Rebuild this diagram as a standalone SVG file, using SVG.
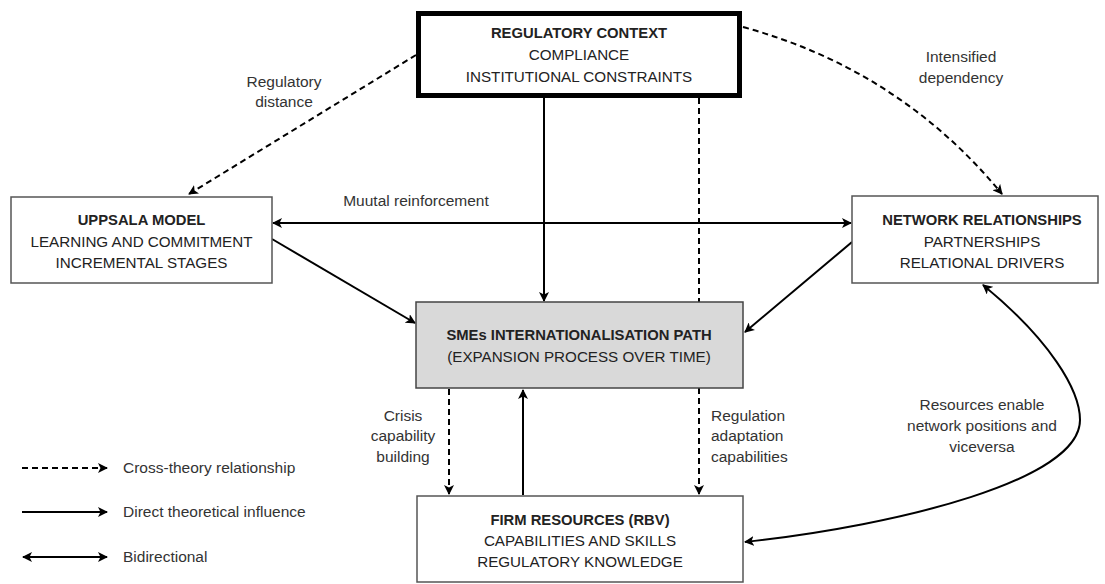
<svg xmlns="http://www.w3.org/2000/svg" width="1105" height="584" viewBox="0 0 1105 584">
<defs>
<marker id="ah" viewBox="0 0 10 10" refX="9" refY="5" markerWidth="5" markerHeight="5" orient="auto-start-reverse" markerUnits="strokeWidth">
<path d="M0,0 L10,5 L0,10 L2.5,5 z" fill="#000"/>
</marker>
<style>
.box{fill:#fff;stroke:#555;stroke-width:1.5}
.t{font-family:"Liberation Sans",Arial,sans-serif;font-size:15.2px;fill:#222;text-anchor:middle}
.b{font-weight:bold;font-size:14.8px}
.lab{font-family:"Liberation Sans",Arial,sans-serif;font-size:15.5px;fill:#333;text-anchor:middle}
.st{text-anchor:start}
.ln{fill:none;stroke:#000;stroke-width:2}
.d{stroke-dasharray:6,4}
</style>
</defs>
<rect width="1105" height="584" fill="#fff"/>
<g id="connectors">
<line class="ln d" x1="699" y1="98" x2="699" y2="494" marker-end="url(#ah)"/>
<line class="ln" x1="544" y1="98" x2="544" y2="301" marker-end="url(#ah)"/>
<line class="ln d" x1="416" y1="55" x2="189" y2="194" marker-end="url(#ah)"/>
<path class="ln d" d="M743,27 Q900,70 1002,194" marker-end="url(#ah)"/>
<line class="ln" x1="273" y1="223" x2="851" y2="223" marker-start="url(#ah)" marker-end="url(#ah)"/>
<line class="ln" x1="272" y1="239" x2="415" y2="323" marker-end="url(#ah)"/>
<line class="ln" x1="852" y1="242" x2="745" y2="332" marker-end="url(#ah)"/>
<line class="ln d" x1="449" y1="389" x2="449" y2="494" marker-end="url(#ah)"/>
<line class="ln" x1="523" y1="495" x2="523" y2="390" marker-end="url(#ah)"/>
<path class="ln" d="M745,542 C900,525 1080,480 1080,420 C1080,390 1050,340 983,285" marker-start="url(#ah)" marker-end="url(#ah)"/>
</g>
<g id="regulatory">
<rect x="418.5" y="13.5" width="321" height="82" fill="#fff" stroke="#000" stroke-width="5"/>
<text class="t b" x="579" y="38">REGULATORY CONTEXT</text>
<text class="t" x="579" y="60">COMPLIANCE</text>
<text class="t" x="579" y="82">INSTITUTIONAL CONSTRAINTS</text>
</g>
<g id="uppsala">
<rect class="box" x="11" y="197" width="261" height="86"/>
<text class="t b" x="141.5" y="225">UPPSALA MODEL</text>
<text class="t" x="141.5" y="247">LEARNING AND COMMITMENT</text>
<text class="t" x="141.5" y="268">INCREMENTAL STAGES</text>
</g>
<g id="network">
<rect class="box" x="852" y="196" width="246" height="87"/>
<text class="t b" x="982" y="225">NETWORK RELATIONSHIPS</text>
<text class="t" x="982" y="247">PARTNERSHIPS</text>
<text class="t" x="982" y="268">RELATIONAL DRIVERS</text>
</g>
<g id="smes">
<rect x="416" y="302" width="327" height="86" fill="#d9d9d9" stroke="#444" stroke-width="1.5"/>
<text class="t b" x="579" y="340">SMEs INTERNATIONALISATION PATH</text>
<text class="t" x="579" y="362">(EXPANSION PROCESS OVER TIME)</text>
</g>
<g id="firm">
<rect class="box" x="417" y="496" width="326" height="86"/>
<text class="t b" x="580" y="525">FIRM RESOURCES (RBV)</text>
<text class="t" x="580" y="546">CAPABILITIES AND SKILLS</text>
<text class="t" x="580" y="567">REGULATORY KNOWLEDGE</text>
</g>
<g id="labels">
<text class="lab" x="284" y="87">Regulatory</text>
<text class="lab" x="284" y="107">distance</text>
<text class="lab" x="961" y="62">Intensified</text>
<text class="lab" x="961" y="83">dependency</text>
<text class="lab" x="416" y="206">Muutal reinforcement</text>
<text class="lab" x="403" y="421">Crisis</text>
<text class="lab" x="403" y="441">capability</text>
<text class="lab" x="403" y="462">building</text>
<text class="lab st" x="711" y="421">Regulation</text>
<text class="lab st" x="711" y="441">adaptation</text>
<text class="lab st" x="711" y="462">capabilities</text>
<text class="lab" x="982" y="410">Resources enable</text>
<text class="lab" x="982" y="431">network positions and</text>
<text class="lab" x="982" y="452">viceversa</text>
</g>
<g id="legend">
<line class="ln d" x1="22" y1="468" x2="107" y2="468" marker-end="url(#ah)"/>
<line class="ln" x1="22" y1="512" x2="107" y2="512" marker-end="url(#ah)"/>
<line class="ln" x1="23" y1="557" x2="107" y2="557" marker-start="url(#ah)" marker-end="url(#ah)"/>
<text class="lab st" x="123" y="473">Cross-theory relationship</text>
<text class="lab st" x="123" y="517">Direct theoretical influence</text>
<text class="lab st" x="123" y="562">Bidirectional</text>
</g>
</svg>
